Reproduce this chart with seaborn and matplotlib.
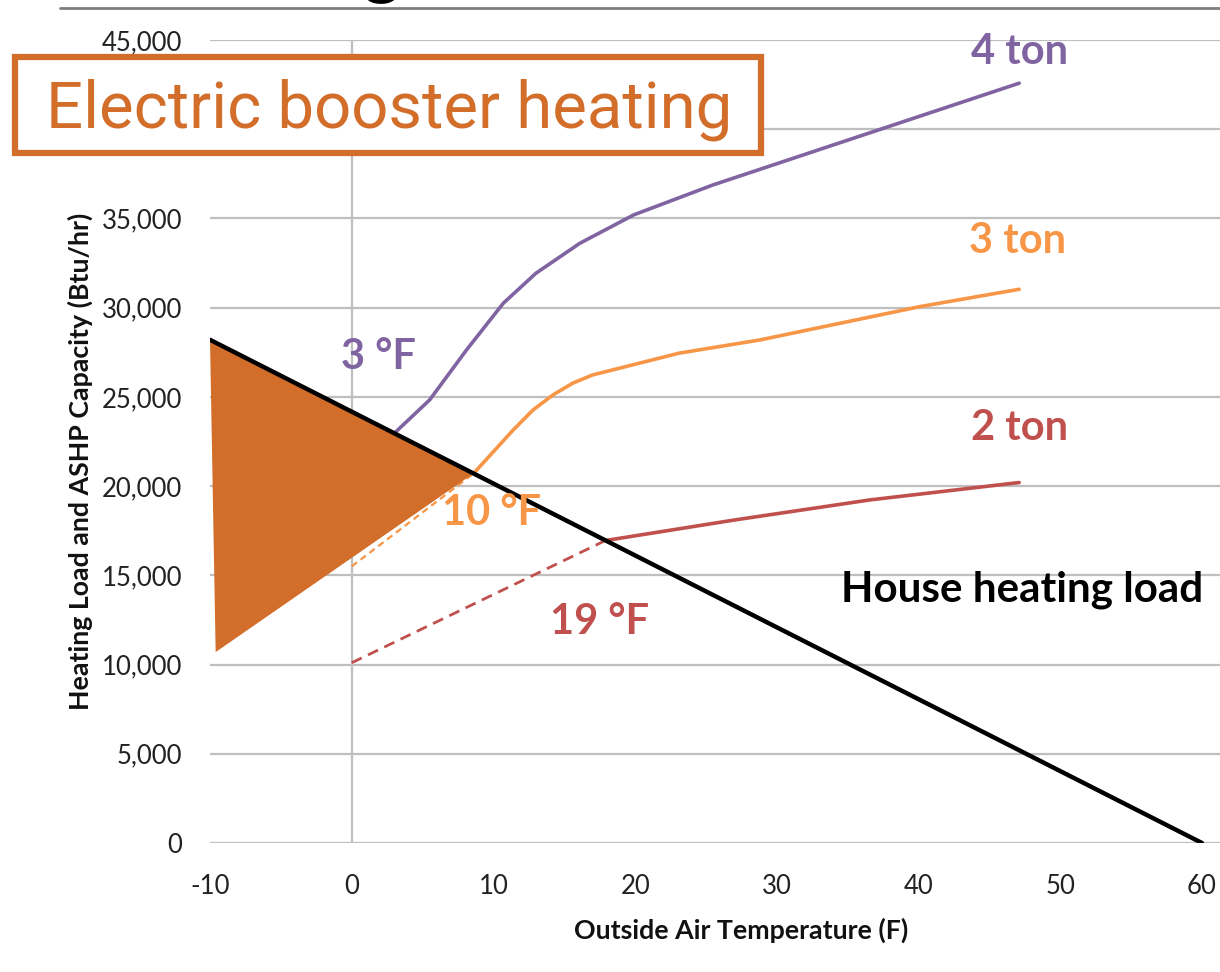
import matplotlib
matplotlib.use("Agg")
import matplotlib.pyplot as plt
import seaborn as sns
import pandas as pd
from matplotlib.patches import Polygon, Rectangle
from matplotlib.ticker import FuncFormatter, MultipleLocator

sns.set_theme(style="white")
plt.rcParams['font.family'] = ['Lato', 'DejaVu Sans']
plt.rcParams['axes.unicode_minus'] = False

# House heating load (Btu/hr) vs outside air temperature (F)
load_temp = [-10, 60]
load_btu = [28200, 0]

# ASHP capacity curves
ton4_temp = [3.0, 5.5, 8.1, 10.7, 13.0, 16.1, 19.9, 25.5, 31.6, 37.7, 47.1]
ton4_btu = [22960, 24830, 27630, 30250, 31930, 33610, 35200, 36880, 38490, 40100, 42580]

ton3_temp = [8.6, 10.0, 11.4, 12.8, 14.2, 15.6, 17.0, 23.1, 28.8, 40.1, 47.1]
ton3_btu = [20710, 21930, 23150, 24270, 25110, 25770, 26230, 27450, 28190, 30060, 31030]

ton2_temp = [17.9, 27.0, 36.6, 47.1]
ton2_btu = [16950, 18100, 19230, 20200]

# Capacity extrapolated below the balance point
ton3_ext_temp = [0, 8.6]
ton3_ext_btu = [15500, 20710]
ton2_ext_temp = [0, 17.9]
ton2_ext_btu = [10100, 16950]

# Region covered by electric booster heat
boost_temp = [-10, 8.6, -9.6]
boost_btu = [28200, 20710, 10700]

x_ticks = [-10, 0, 10, 20, 30, 40, 50, 60]

PURPLE = "#8064A2"
ORANGE = "#F79646"
RED = "#C0504D"
BOOST = "#D26D2A"
GRID = "#BFBFBF"

fig = plt.figure(figsize=(12.2, 9.72), dpi=100)
ax = fig.add_axes([210 / 1220, 129 / 972, 1010 / 1220, 803 / 972])

# grid
for v in range(0, 45001, 5000):
    ax.axhline(v, color=GRID, lw=1.6, zorder=0)
ax.axvline(0, color=GRID, lw=1.6, zorder=0)

def curve(xs, ys, **kw):
    df = pd.DataFrame({"t": xs, "q": ys})
    sns.lineplot(data=df, x="t", y="q", ax=ax, sort=False, estimator=None, **kw)

curve(ton3_ext_temp, ton3_ext_btu, color=ORANGE, lw=1.6, linestyle=(0, (3, 2)), zorder=2)
curve(ton2_ext_temp, ton2_ext_btu, color=RED, lw=2.0, linestyle=(0, (4, 2.5)), zorder=2)

ax.add_patch(Polygon(list(zip(boost_temp, boost_btu)), closed=True,
                     facecolor=BOOST, edgecolor="none", zorder=3))

curve(ton4_temp, ton4_btu, color=PURPLE, lw=2.6, zorder=4)
curve(ton3_temp, ton3_btu, color=ORANGE, lw=2.6, zorder=4)
curve(ton2_temp, ton2_btu, color=RED, lw=2.6, zorder=4)
curve(load_temp, load_btu, color="black", lw=3.2, zorder=5)

ax.set_xlim(-10, 61.27)
ax.set_ylim(0, 45000)
ax.set_xticks(x_ticks)
ax.yaxis.set_major_locator(MultipleLocator(5000))
# the 40,000 label sits behind the callout box, so it is left blank
ax.yaxis.set_major_formatter(FuncFormatter(lambda v, p: "" if int(v) == 40000 else f"{int(v):,}"))
ax.tick_params(axis="both", length=0, labelsize=18.5, colors="#222222")
ax.tick_params(axis="y", pad=20)
ax.tick_params(axis="x", pad=22)
ax.set_xlabel("")
ax.set_ylabel("")
for s in ax.spines.values():
    s.set_visible(False)
ax.patch.set_alpha(0)

lbl = dict(fontweight="bold", fontsize=30, ha="center", va="center", zorder=6)
ax.text(47.1, 44340, "4 ton", color=PURPLE, **lbl)
ax.text(47.0, 33740, "3 ton", color=ORANGE, **lbl)
ax.text(47.1, 23260, "2 ton", color=RED, **lbl)
ax.text(1.9, 27240, "3 °F", color=PURPLE, **lbl)
ax.text(9.9, 18500, "10 °F", color=ORANGE, **lbl)
ax.text(17.5, 12390, "19 °F", color=RED, **lbl)
ax.text(47.3, 14180, "House heating load", color="black",
        fontweight="bold", fontsize=30.3, ha="center", va="center", zorder=6)

# axis titles
fig.text(741 / 1220, 1 - 930 / 972, "Outside Air Temperature (F)", fontweight="bold",
         fontsize=19.3, ha="center", va="center", color="#111111")
fig.text(80 / 1220, 1 - 461 / 972, "Heating Load and ASHP Capacity (Btu/hr)", fontweight="bold",
         fontsize=19.3, rotation=90, ha="center", va="center", color="#111111")

# slide header rule and the descender of its title
fig.add_artist(plt.Line2D([60 / 1220, 1], [1 - 8 / 972, 1 - 8 / 972], color="#7F7F7F", lw=2))
fig.text(381 / 1220, 1 + 11 / 972, "g", fontweight="bold", fontsize=52, ha="center",
         va="baseline", color="black")

# callout box
fig.add_artist(Rectangle((15 / 1220, 1 - 153 / 972), 746 / 1220, 96 / 972,
                         transform=fig.transFigure, facecolor="white", edgecolor=BOOST,
                         lw=4.5, zorder=10))
fig.text(389 / 1220, 1 - 110 / 972, "Electric booster heating", family=["Roboto", "DejaVu Sans"],
         fontweight="normal", fontsize=47, color=BOOST, ha="center", va="center", zorder=11)

fig.savefig("out.png", dpi=100)
